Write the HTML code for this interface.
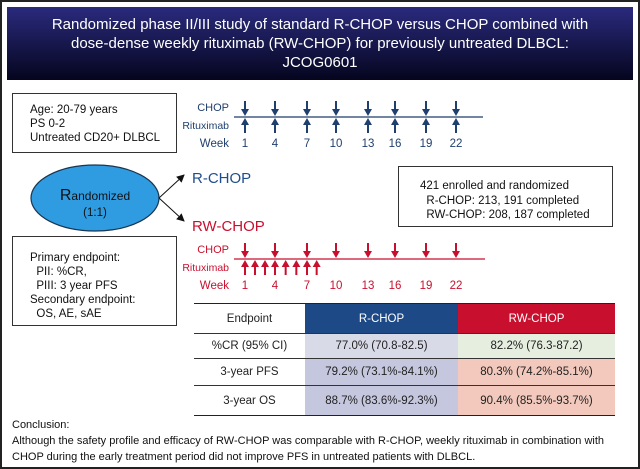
<!DOCTYPE html>
<html><head><meta charset="utf-8"><style>
body{margin:0;width:640px;height:469px;overflow:hidden;background:#fff;font-family:"Liberation Sans",Arial,sans-serif;}
.a{position:absolute;}
.box{position:absolute;border:1px solid #333;box-sizing:border-box;font-size:11.5px;line-height:14px;color:#111;}
td{border:none;text-align:center;font-size:11.5px;padding:0;color:#222;}
</style></head><body>
<div class="a" style="left:0;top:0;width:640px;height:469px;border:2px solid #222;box-sizing:border-box;"></div>
<div class="a" style="left:7px;top:7px;width:626px;height:73px;background:linear-gradient(#2a2a7e,#05051e);color:#fff;text-align:center;font-size:15px;line-height:19px;padding-top:8px;box-sizing:border-box;">Randomized phase II/III study of standard R-CHOP versus CHOP combined with<br>dose-dense weekly rituximab (RW-CHOP) for previously untreated DLBCL:<br>JCOG0601</div>
<div class="box" style="left:12px;top:93px;width:165px;height:60px;padding:9px 0 0 17px;">Age: 20-79 years<br>PS 0-2<br>Untreated CD20+ DLBCL</div>
<div class="box" style="left:12px;top:236px;width:165px;height:90px;padding:14px 0 0 17px;">Primary endpoint:<br>&nbsp;&nbsp;PII: %CR,<br>&nbsp;&nbsp;PIII: 3 year PFS<br>Secondary endpoint:<br>&nbsp;&nbsp;OS, AE, sAE</div>
<div class="box" style="left:398px;top:166px;width:215px;height:61px;padding:12px 0 0 21px;line-height:14.5px;">421 enrolled and randomized<br>&nbsp;&nbsp;R-CHOP: 213, 191 completed<br>&nbsp;&nbsp;RW-CHOP: 208, 187 completed</div>
<svg class="a" style="left:0;top:0" width="640" height="469">
<defs><marker id="ah" markerWidth="8" markerHeight="8" refX="7" refY="4" orient="auto"><path d="M0,0L8,4L0,8z" fill="#111"/></marker></defs>
<ellipse cx="95" cy="198" rx="64" ry="33" fill="#2f9be0" stroke="#1a3550" stroke-width="1.2"/>
<text x="95" y="200" text-anchor="middle" font-size="12" fill="#111"><tspan font-size="16">R</tspan>andomized</text>
<text x="95" y="216" text-anchor="middle" font-size="11.5" fill="#111">(1:1)</text>
<line x1="159" y1="198" x2="184" y2="175" stroke="#111" stroke-width="1" marker-end="url(#ah)"/>
<line x1="159" y1="198" x2="184" y2="221" stroke="#111" stroke-width="1" marker-end="url(#ah)"/>
<text x="192" y="183" font-size="15" fill="#1f4e8c">R-CHOP</text>
<text x="192" y="231" font-size="15" fill="#c8102e">RW-CHOP</text>
<g id="tl"></g>
</svg>
<table class="a" style="left:194px;top:303px;width:421px;border-collapse:collapse;">
<tr style="height:30px;border-top:1.5px solid #222;"><td style="width:111px">Endpoint</td><td style="width:153px;background:#1d4a86;color:#fff">R-CHOP</td><td style="background:#c8102e;color:#fff">RW-CHOP</td></tr>
<tr style="height:25px;border-top:1px solid #333;"><td>%CR (95% CI)</td><td style="background:#d9dae8">77.0% (70.8-82.5)</td><td style="background:#e6eee0">82.2% (76.3-87.2)</td></tr>
<tr style="height:27px;border-top:1px solid #333;"><td>3-year PFS</td><td style="background:#c5c7de">79.2% (73.1%-84.1%)</td><td style="background:#f2c9bc">80.3% (74.2%-85.1%)</td></tr>
<tr style="height:30px;border-top:1px solid #333;border-bottom:1.5px solid #222;"><td>3-year OS</td><td style="background:#c5c7de">88.7% (83.6%-92.3%)</td><td style="background:#f2c9bc">90.4% (85.5%-93.7%)</td></tr>
</table>
<div class="a" style="left:12px;top:417px;font-size:11px;line-height:16px;color:#111;">Conclusion:<br>Although the safety profile and efficacy of RW-CHOP was comparable with R-CHOP, weekly rituximab in combination with<br>CHOP during the early treatment period did not improve PFS in untreated patients with DLBCL.</div>
<script>
const weekLabels=[1,4,7,10,13,16,19,22];
const rchopChopWeeks=[1,4,7,10,13,16,19,22];
const rchopRituxWeeks=[1,4,7,10,13,16,19,22];
const rwChopWeeks=[1,4,7,10,13,16,19,22];
const rwRituxWeeks=[1,2,3,4,5,6,7,8];
const NS='http://www.w3.org/2000/svg';
const g=document.getElementById('tl');
const tickX=[245,275,307,336,368,395,426,456];
function wx(w){
  for(let i=0;i<weekLabels.length-1;i++){const a=weekLabels[i],b=weekLabels[i+1];
    if(w<=b){return tickX[i]+(w-a)/(b-a)*(tickX[i+1]-tickX[i]);}}
  return tickX[tickX.length-1];}
function el(t,at){const e=document.createElementNS(NS,t);for(const k in at)e.setAttribute(k,at[k]);g.appendChild(e);return e;}
function arrow(x,y,dir,col){
  const d=dir>0?`M${x-1},${y-16}H${x+1}V${y-8}H${x+4}L${x},${y-1}L${x-4},${y-8}H${x-1}Z`
               :`M${x-1},${y+16}H${x+1}V${y+8}H${x+4}L${x},${y+1}L${x-4},${y+8}H${x-1}Z`;
  const p=el('path',{d:d,fill:col});
  
  }
function timeline(y,col,chop,ritux,x2){
  const ln=el('line',{x1:234,y1:y,x2:x2,y2:y,stroke:col,'stroke-width':1.3});
  
  
  chop.forEach(w=>arrow(wx(w),y,1,col));
  ritux.forEach(w=>arrow(wx(w),y,-1,col));
  const t1=el('text',{x:229,y:y-6,'text-anchor':'end','font-size':11,fill:col});t1.textContent='CHOP';
  const t2=el('text',{x:229,y:y+12,'text-anchor':'end','font-size':10.5,fill:col});t2.textContent='Rituximab';
  const t3=el('text',{x:229,y:y+30,'text-anchor':'end','font-size':11.5,fill:col});t3.textContent='Week';
  weekLabels.forEach(w=>{const t=el('text',{x:wx(w),y:y+30,'text-anchor':'middle','font-size':11.5,fill:col});t.textContent=w;
    
    });
}
timeline(117,'#1f3f6e',rchopChopWeeks,rchopRituxWeeks,483);
timeline(259,'#c8102e',rwChopWeeks,rwRituxWeeks,485);
</script>
</body></html>
